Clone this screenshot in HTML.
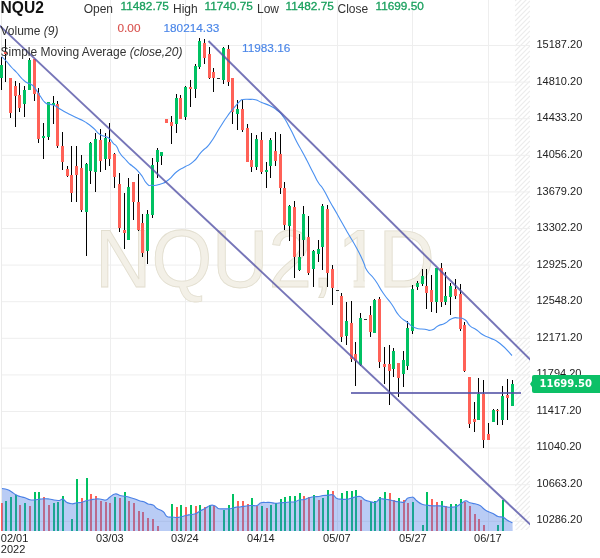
<!DOCTYPE html><html><head><meta charset="utf-8"><title>NQU2 Chart</title>
<style>
html,body{margin:0;padding:0;background:#fff;}
body{width:600px;height:558px;overflow:hidden;position:relative;font-family:"Liberation Sans",Arial,sans-serif;color:#222;}
#chart{position:absolute;left:0;top:0;width:600px;height:558px;}
.t{position:absolute;white-space:nowrap;line-height:1;}
.sym{font-size:15.6px;font-weight:bold;color:#111;}
.lb{font-size:12px;color:#333;}
.val{font-size:11.8px;-webkit-text-stroke:0.3px currentColor;}
.g{color:#1aa05e;}
.r{color:#d9534f;-webkit-text-stroke-width:0.15px;}
.b{color:#4a86e8;-webkit-text-stroke-width:0.15px;}
.ax{font-size:11px;color:#222;}
.price{position:absolute;left:532px;top:375px;width:68px;height:18px;background:#0cc067;border-radius:2px 0 0 2px;}
.price:before{content:"";position:absolute;left:-2px;top:6px;border-top:3px solid transparent;border-bottom:3px solid transparent;border-right:2px solid #0cc067;}
.price span{position:absolute;left:7.5px;top:3.5px;font-family:"DejaVu Sans",Verdana,sans-serif;font-weight:bold;font-size:10px;color:#fff;line-height:1;white-space:nowrap;}
i{font-style:italic;}
</style></head><body>
<svg id="chart" width="600" height="558" viewBox="0 0 600 558">
<defs><pattern id="hatch" width="5" height="5" patternUnits="userSpaceOnUse"><path d="M-1,6 L6,-1 M-1,1 L1,-1 M4,6 L6,4" stroke="#e6e6e6" stroke-width="1" fill="none"/></pattern>
<clipPath id="plot"><rect x="0" y="0" width="530" height="531"/></clipPath></defs>
<rect x="0" y="0" width="600" height="558" fill="#fff"/>
<clipPath id="hb"><rect x="515" y="0" width="15" height="530"/></clipPath>
<path d="M515,1 L530,-14 M515,6 L530,-9 M515,11 L530,-4 M515,16 L530,1 M515,21 L530,6 M515,26 L530,11 M515,31 L530,16 M515,36 L530,21 M515,41 L530,26 M515,46 L530,31 M515,51 L530,36 M515,56 L530,41 M515,61 L530,46 M515,66 L530,51 M515,71 L530,56 M515,76 L530,61 M515,81 L530,66 M515,86 L530,71 M515,91 L530,76 M515,96 L530,81 M515,101 L530,86 M515,106 L530,91 M515,111 L530,96 M515,116 L530,101 M515,121 L530,106 M515,126 L530,111 M515,131 L530,116 M515,136 L530,121 M515,141 L530,126 M515,146 L530,131 M515,151 L530,136 M515,156 L530,141 M515,161 L530,146 M515,166 L530,151 M515,171 L530,156 M515,176 L530,161 M515,181 L530,166 M515,186 L530,171 M515,191 L530,176 M515,196 L530,181 M515,201 L530,186 M515,206 L530,191 M515,211 L530,196 M515,216 L530,201 M515,221 L530,206 M515,226 L530,211 M515,231 L530,216 M515,236 L530,221 M515,241 L530,226 M515,246 L530,231 M515,251 L530,236 M515,256 L530,241 M515,261 L530,246 M515,266 L530,251 M515,271 L530,256 M515,276 L530,261 M515,281 L530,266 M515,286 L530,271 M515,291 L530,276 M515,296 L530,281 M515,301 L530,286 M515,306 L530,291 M515,311 L530,296 M515,316 L530,301 M515,321 L530,306 M515,326 L530,311 M515,331 L530,316 M515,336 L530,321 M515,341 L530,326 M515,346 L530,331 M515,351 L530,336 M515,356 L530,341 M515,361 L530,346 M515,366 L530,351 M515,371 L530,356 M515,376 L530,361 M515,381 L530,366 M515,386 L530,371 M515,391 L530,376 M515,396 L530,381 M515,401 L530,386 M515,406 L530,391 M515,411 L530,396 M515,416 L530,401 M515,421 L530,406 M515,426 L530,411 M515,431 L530,416 M515,436 L530,421 M515,441 L530,426 M515,446 L530,431 M515,451 L530,436 M515,456 L530,441 M515,461 L530,446 M515,466 L530,451 M515,471 L530,456 M515,476 L530,461 M515,481 L530,466 M515,486 L530,471 M515,491 L530,476 M515,496 L530,481 M515,501 L530,486 M515,506 L530,491 M515,511 L530,496 M515,516 L530,501 M515,521 L530,506 M515,526 L530,511 M515,531 L530,516 M515,536 L530,521 M515,541 L530,526 M515,546 L530,531 " stroke="#ececec" stroke-width="1.2" fill="none" clip-path="url(#hb)"/>
<g fill="#eeeeee" shape-rendering="crispEdges"><rect x="2" y="45.0" width="528" height="1" shape-rendering="auto"/><rect x="2" y="81.6" width="528" height="1" shape-rendering="auto"/><rect x="2" y="118.2" width="528" height="1" shape-rendering="auto"/><rect x="2" y="154.8" width="528" height="1" shape-rendering="auto"/><rect x="2" y="191.4" width="528" height="1" shape-rendering="auto"/><rect x="2" y="228.0" width="528" height="1" shape-rendering="auto"/><rect x="2" y="264.6" width="528" height="1" shape-rendering="auto"/><rect x="2" y="301.2" width="528" height="1" shape-rendering="auto"/><rect x="2" y="337.8" width="528" height="1" shape-rendering="auto"/><rect x="2" y="374.4" width="528" height="1" shape-rendering="auto"/><rect x="2" y="411.0" width="528" height="1" shape-rendering="auto"/><rect x="2" y="447.6" width="528" height="1" shape-rendering="auto"/><rect x="2" y="484.2" width="528" height="1" shape-rendering="auto"/><rect x="2" y="520.8" width="528" height="1" shape-rendering="auto"/><rect x="110" y="0" width="1" height="531"/><rect x="185" y="0" width="1" height="531"/><rect x="261" y="0" width="1" height="531"/><rect x="337" y="0" width="1" height="531"/><rect x="412" y="0" width="1" height="531"/><rect x="488" y="0" width="1" height="531"/></g>
<rect x="1" y="0" width="1" height="531" fill="#ebebeb" shape-rendering="crispEdges"/>
<clipPath id="one"><rect x="0" y="200" width="600" height="79.3"/><rect x="0" y="270" width="342" height="40"/><rect x="353.6" y="270" width="11.2" height="40"/><rect x="378" y="270" width="200" height="40"/></clipPath>
<g clip-path="url(#one)"><g transform="translate(0,287) scale(1,1.036) translate(0,-287)" font-family="Liberation Sans, Arial, sans-serif" font-size="78" fill="#f3f0e7" stroke="#e2decf" stroke-width="0.8">
<text x="95.1" y="287">NQU2, <tspan x="337.6">1</tspan><tspan dx="-2.5">D</tspan></text>
</g></g>
<g shape-rendering="crispEdges"><rect x="1" y="503" width="2" height="28" fill="#ff6157"/><rect x="5" y="501" width="2" height="30" fill="#00c162"/><rect x="10" y="497" width="2" height="34" fill="#00c162"/><rect x="15" y="495" width="2" height="36" fill="#00c162"/><rect x="19" y="505" width="2" height="26" fill="#ff6157"/><rect x="24" y="503" width="2" height="28" fill="#00c162"/><rect x="29" y="506" width="2" height="25" fill="#ff6157"/><rect x="34" y="492" width="2" height="39" fill="#00c162"/><rect x="38" y="492" width="2" height="39" fill="#00c162"/><rect x="43" y="497" width="2" height="34" fill="#ff6157"/><rect x="48" y="505" width="2" height="26" fill="#ff6157"/><rect x="53" y="503" width="2" height="28" fill="#00c162"/><rect x="57" y="502" width="2" height="29" fill="#00c162"/><rect x="62" y="496" width="2" height="35" fill="#00c162"/><rect x="71" y="519" width="2" height="12" fill="#00c162"/><rect x="76" y="479" width="2" height="52" fill="#00c162"/><rect x="81" y="498" width="2" height="33" fill="#ff6157"/><rect x="86" y="478" width="2" height="53" fill="#00c162"/><rect x="90" y="494" width="2" height="37" fill="#ff6157"/><rect x="95" y="496" width="2" height="35" fill="#ff6157"/><rect x="100" y="501" width="2" height="30" fill="#ff6157"/><rect x="105" y="502" width="2" height="29" fill="#ff6157"/><rect x="109" y="503" width="2" height="28" fill="#ff6157"/><rect x="114" y="497" width="2" height="34" fill="#00c162"/><rect x="119" y="498" width="2" height="33" fill="#ff6157"/><rect x="124" y="492" width="2" height="39" fill="#00c162"/><rect x="128" y="501" width="2" height="30" fill="#ff6157"/><rect x="133" y="503" width="2" height="28" fill="#ff6157"/><rect x="138" y="511" width="2" height="20" fill="#ff6157"/><rect x="142" y="512" width="2" height="19" fill="#ff6157"/><rect x="147" y="518" width="2" height="13" fill="#ff6157"/><rect x="152" y="519" width="2" height="12" fill="#ff6157"/><rect x="157" y="526" width="2" height="5" fill="#ff6157"/><rect x="171" y="504" width="2" height="27" fill="#00c162"/><rect x="176" y="507" width="2" height="24" fill="#ff6157"/><rect x="180" y="505" width="2" height="26" fill="#00c162"/><rect x="185" y="507" width="2" height="24" fill="#ff6157"/><rect x="190" y="505" width="2" height="26" fill="#00c162"/><rect x="195" y="506" width="2" height="25" fill="#ff6157"/><rect x="199" y="505" width="2" height="26" fill="#00c162"/><rect x="204" y="507" width="2" height="24" fill="#ff6157"/><rect x="209" y="505" width="2" height="26" fill="#00c162"/><rect x="213" y="506" width="2" height="25" fill="#ff6157"/><rect x="223" y="510" width="2" height="21" fill="#00c162"/><rect x="228" y="505" width="2" height="26" fill="#00c162"/><rect x="232" y="494" width="2" height="37" fill="#00c162"/><rect x="237" y="501" width="2" height="30" fill="#ff6157"/><rect x="242" y="501" width="2" height="30" fill="#ff6157"/><rect x="247" y="504" width="2" height="27" fill="#ff6157"/><rect x="251" y="498" width="2" height="33" fill="#00c162"/><rect x="256" y="506" width="2" height="25" fill="#ff6157"/><rect x="261" y="506" width="2" height="25" fill="#00c162"/><rect x="266" y="508" width="2" height="23" fill="#ff6157"/><rect x="270" y="505" width="2" height="26" fill="#00c162"/><rect x="275" y="503" width="2" height="28" fill="#00c162"/><rect x="280" y="499" width="2" height="32" fill="#00c162"/><rect x="284" y="497" width="2" height="34" fill="#00c162"/><rect x="289" y="496" width="2" height="35" fill="#00c162"/><rect x="294" y="496" width="2" height="35" fill="#00c162"/><rect x="299" y="493" width="2" height="38" fill="#00c162"/><rect x="303" y="496" width="2" height="35" fill="#ff6157"/><rect x="308" y="497" width="2" height="34" fill="#ff6157"/><rect x="313" y="495" width="2" height="36" fill="#00c162"/><rect x="318" y="500" width="2" height="31" fill="#ff6157"/><rect x="322" y="498" width="2" height="33" fill="#00c162"/><rect x="327" y="490" width="2" height="41" fill="#00c162"/><rect x="332" y="491" width="2" height="40" fill="#ff6157"/><rect x="341" y="493" width="2" height="38" fill="#00c162"/><rect x="346" y="491" width="2" height="40" fill="#00c162"/><rect x="351" y="491" width="2" height="40" fill="#00c162"/><rect x="355" y="490" width="2" height="41" fill="#00c162"/><rect x="360" y="500" width="2" height="31" fill="#ff6157"/><rect x="370" y="502" width="2" height="29" fill="#00c162"/><rect x="374" y="501" width="2" height="30" fill="#00c162"/><rect x="379" y="497" width="2" height="34" fill="#00c162"/><rect x="384" y="492" width="2" height="39" fill="#00c162"/><rect x="389" y="493" width="2" height="38" fill="#ff6157"/><rect x="393" y="500" width="2" height="31" fill="#ff6157"/><rect x="398" y="498" width="2" height="33" fill="#00c162"/><rect x="403" y="500" width="2" height="31" fill="#ff6157"/><rect x="407" y="503" width="2" height="28" fill="#ff6157"/><rect x="412" y="502" width="2" height="29" fill="#00c162"/><rect x="422" y="525" width="2" height="6" fill="#00c162"/><rect x="426" y="492" width="2" height="39" fill="#00c162"/><rect x="431" y="499" width="2" height="32" fill="#ff6157"/><rect x="436" y="502" width="2" height="29" fill="#ff6157"/><rect x="441" y="501" width="2" height="30" fill="#00c162"/><rect x="445" y="506" width="2" height="25" fill="#ff6157"/><rect x="450" y="504" width="2" height="27" fill="#00c162"/><rect x="455" y="504" width="2" height="27" fill="#00c162"/><rect x="460" y="499" width="2" height="32" fill="#00c162"/><rect x="464" y="502" width="2" height="29" fill="#ff6157"/><rect x="469" y="506" width="2" height="25" fill="#ff6157"/><rect x="474" y="514" width="2" height="17" fill="#ff6157"/><rect x="478" y="519" width="2" height="12" fill="#ff6157"/><rect x="483" y="525" width="2" height="6" fill="#ff6157"/><rect x="497" y="525" width="2" height="6" fill="#00c162"/><rect x="502" y="500" width="2" height="31" fill="#00c162"/></g>
<path d="M2.0,488.5 C3.3,488.8 4.6,488.7 7.0,489.5 C9.4,490.3 8.6,490.1 11.0,491.5 C13.4,492.9 13.6,493.5 16.0,494.8 C18.4,496.1 17.6,495.7 20.0,496.5 C22.4,497.3 22.3,496.9 25.0,497.8 C27.7,498.7 27.3,499.3 30.0,499.8 C32.7,500.3 32.6,500.0 35.0,499.8 C37.4,499.6 36.6,499.5 39.0,499.2 C41.4,498.9 41.3,498.9 44.0,498.8 C46.7,498.7 46.3,498.7 49.0,499.0 C51.7,499.3 51.6,499.6 54.0,500.0 C56.4,500.4 56.4,500.4 58.0,500.5 C59.6,500.6 58.7,500.5 60.0,500.2 C61.3,499.9 61.1,498.6 63.0,499.2 C64.9,499.8 64.6,501.3 67.0,502.5 C69.4,503.7 69.3,503.7 72.0,503.8 C74.7,503.9 74.3,503.2 77.0,502.8 C79.7,502.4 79.3,502.8 82.0,502.2 C84.7,501.6 84.6,501.1 87.0,500.5 C89.4,499.9 88.6,500.2 91.0,499.8 C93.4,499.4 93.3,499.2 96.0,499.0 C98.7,498.8 98.3,498.9 101.0,499.2 C103.7,499.5 103.6,500.6 106.0,500.0 C108.4,499.4 107.6,498.6 110.0,497.0 C112.4,495.4 112.6,494.5 115.0,494.0 C117.4,493.5 117.7,494.6 119.0,495.0 C120.3,495.4 118.1,495.1 120.0,495.5 C121.9,495.9 123.3,496.0 126.0,496.5 C128.7,497.0 127.6,496.8 130.0,497.5 C132.4,498.2 132.3,498.1 135.0,499.0 C137.7,499.9 137.6,500.3 140.0,501.0 C142.4,501.7 141.9,501.0 144.0,501.8 C146.1,502.6 145.6,503.1 148.0,504.0 C150.4,504.9 150.6,503.8 153.0,505.0 C155.4,506.2 154.3,506.8 157.0,508.5 C159.7,510.2 160.3,509.4 163.0,511.5 C165.7,513.6 164.6,515.0 167.0,516.5 C169.4,518.0 169.3,516.7 172.0,517.0 C174.7,517.3 174.9,517.5 177.0,517.5 C179.1,517.5 177.6,517.5 180.0,517.0 C182.4,516.5 183.1,516.2 186.0,515.5 C188.9,514.8 188.3,515.0 191.0,514.5 C193.7,514.0 193.6,514.4 196.0,513.5 C198.4,512.6 197.6,512.3 200.0,511.0 C202.4,509.7 202.3,510.0 205.0,508.5 C207.7,507.0 207.6,506.3 210.0,505.5 C212.4,504.7 212.1,505.0 214.0,505.5 C215.9,506.0 215.7,506.6 217.0,507.5 C218.3,508.4 217.1,508.5 219.0,508.8 C220.9,509.1 221.3,508.8 224.0,508.8 C226.7,508.8 226.6,509.0 229.0,508.8 C231.4,508.6 230.6,508.5 233.0,508.0 C235.4,507.5 236.1,507.1 238.0,506.8 C239.9,506.5 237.3,507.3 240.0,507.0 C242.7,506.7 244.8,506.2 248.0,505.8 C251.2,505.4 249.6,505.6 252.0,505.5 C254.4,505.4 254.6,506.2 257.0,505.5 C259.4,504.8 258.6,503.6 261.0,502.8 C263.4,502.0 263.3,502.6 266.0,502.5 C268.7,502.4 268.6,502.3 271.0,502.5 C273.4,502.7 272.3,503.1 275.0,503.2 C277.7,503.3 278.3,503.0 281.0,502.8 C283.7,502.6 282.6,502.7 285.0,502.5 C287.4,502.3 287.3,502.2 290.0,502.0 C292.7,501.8 292.6,502.3 295.0,501.8 C297.4,501.3 296.6,500.6 299.0,500.0 C301.4,499.4 301.3,500.1 304.0,499.5 C306.7,498.9 306.3,498.5 309.0,497.8 C311.7,497.1 311.3,497.1 314.0,496.8 C316.7,496.5 316.6,496.8 319.0,496.5 C321.4,496.2 320.6,495.8 323.0,495.5 C325.4,495.2 325.3,495.4 328.0,495.3 C330.7,495.2 330.6,494.1 333.0,495.0 C335.4,495.9 334.6,497.4 337.0,498.5 C339.4,499.6 339.3,499.0 342.0,499.2 C344.7,499.4 344.3,499.5 347.0,499.2 C349.7,498.9 349.6,498.6 352.0,498.0 C354.4,497.4 353.9,497.2 356.0,496.8 C358.1,496.4 358.4,496.3 360.0,496.5 C361.6,496.7 360.7,496.6 362.0,497.5 C363.3,498.4 362.9,498.9 365.0,500.0 C367.1,501.1 367.3,500.8 370.0,501.5 C372.7,502.2 372.9,502.8 375.0,502.5 C377.1,502.2 376.7,501.5 378.0,500.5 C379.3,499.5 378.1,499.1 380.0,498.8 C381.9,498.5 382.3,498.9 385.0,499.2 C387.7,499.5 387.6,499.5 390.0,500.0 C392.4,500.5 391.6,500.5 394.0,501.0 C396.4,501.5 396.3,501.5 399.0,501.8 C401.7,502.1 402.1,502.7 404.0,502.2 C405.9,501.7 404.9,501.1 406.0,500.0 C407.1,498.9 406.4,498.7 408.0,498.0 C409.6,497.3 410.4,497.2 412.0,497.2 C413.6,497.2 412.7,497.0 414.0,498.0 C415.3,499.0 414.9,499.3 417.0,501.0 C419.1,502.7 419.3,503.1 422.0,504.2 C424.7,505.3 424.3,504.8 427.0,505.2 C429.7,505.6 429.3,505.6 432.0,505.8 C434.7,506.0 434.3,505.7 437.0,505.8 C439.7,505.9 439.6,505.7 442.0,506.0 C444.4,506.3 443.6,506.5 446.0,506.8 C448.4,507.1 448.3,507.3 451.0,507.2 C453.7,507.1 453.6,507.3 456.0,506.5 C458.4,505.7 458.1,505.4 460.0,504.3 C461.9,503.2 461.4,503.2 463.0,502.3 C464.6,501.4 464.1,500.7 466.0,500.8 C467.9,500.9 467.6,502.0 470.0,502.8 C472.4,503.6 472.3,503.1 475.0,503.8 C477.7,504.5 477.6,504.1 480.0,505.5 C482.4,506.9 481.9,507.4 484.0,509.0 C486.1,510.6 485.6,510.3 488.0,511.5 C490.4,512.7 490.3,512.2 493.0,513.5 C495.7,514.8 495.3,515.5 498.0,516.5 C500.7,517.5 500.6,516.3 503.0,517.2 C505.4,518.1 504.5,518.5 507.0,520.0 C509.5,521.5 511.0,522.1 512.5,522.8 L512.7,531 L2,531 Z" fill="rgba(70,120,230,0.38)"/>
<path d="M2.0,488.5 C3.3,488.8 4.6,488.7 7.0,489.5 C9.4,490.3 8.6,490.1 11.0,491.5 C13.4,492.9 13.6,493.5 16.0,494.8 C18.4,496.1 17.6,495.7 20.0,496.5 C22.4,497.3 22.3,496.9 25.0,497.8 C27.7,498.7 27.3,499.3 30.0,499.8 C32.7,500.3 32.6,500.0 35.0,499.8 C37.4,499.6 36.6,499.5 39.0,499.2 C41.4,498.9 41.3,498.9 44.0,498.8 C46.7,498.7 46.3,498.7 49.0,499.0 C51.7,499.3 51.6,499.6 54.0,500.0 C56.4,500.4 56.4,500.4 58.0,500.5 C59.6,500.6 58.7,500.5 60.0,500.2 C61.3,499.9 61.1,498.6 63.0,499.2 C64.9,499.8 64.6,501.3 67.0,502.5 C69.4,503.7 69.3,503.7 72.0,503.8 C74.7,503.9 74.3,503.2 77.0,502.8 C79.7,502.4 79.3,502.8 82.0,502.2 C84.7,501.6 84.6,501.1 87.0,500.5 C89.4,499.9 88.6,500.2 91.0,499.8 C93.4,499.4 93.3,499.2 96.0,499.0 C98.7,498.8 98.3,498.9 101.0,499.2 C103.7,499.5 103.6,500.6 106.0,500.0 C108.4,499.4 107.6,498.6 110.0,497.0 C112.4,495.4 112.6,494.5 115.0,494.0 C117.4,493.5 117.7,494.6 119.0,495.0 C120.3,495.4 118.1,495.1 120.0,495.5 C121.9,495.9 123.3,496.0 126.0,496.5 C128.7,497.0 127.6,496.8 130.0,497.5 C132.4,498.2 132.3,498.1 135.0,499.0 C137.7,499.9 137.6,500.3 140.0,501.0 C142.4,501.7 141.9,501.0 144.0,501.8 C146.1,502.6 145.6,503.1 148.0,504.0 C150.4,504.9 150.6,503.8 153.0,505.0 C155.4,506.2 154.3,506.8 157.0,508.5 C159.7,510.2 160.3,509.4 163.0,511.5 C165.7,513.6 164.6,515.0 167.0,516.5 C169.4,518.0 169.3,516.7 172.0,517.0 C174.7,517.3 174.9,517.5 177.0,517.5 C179.1,517.5 177.6,517.5 180.0,517.0 C182.4,516.5 183.1,516.2 186.0,515.5 C188.9,514.8 188.3,515.0 191.0,514.5 C193.7,514.0 193.6,514.4 196.0,513.5 C198.4,512.6 197.6,512.3 200.0,511.0 C202.4,509.7 202.3,510.0 205.0,508.5 C207.7,507.0 207.6,506.3 210.0,505.5 C212.4,504.7 212.1,505.0 214.0,505.5 C215.9,506.0 215.7,506.6 217.0,507.5 C218.3,508.4 217.1,508.5 219.0,508.8 C220.9,509.1 221.3,508.8 224.0,508.8 C226.7,508.8 226.6,509.0 229.0,508.8 C231.4,508.6 230.6,508.5 233.0,508.0 C235.4,507.5 236.1,507.1 238.0,506.8 C239.9,506.5 237.3,507.3 240.0,507.0 C242.7,506.7 244.8,506.2 248.0,505.8 C251.2,505.4 249.6,505.6 252.0,505.5 C254.4,505.4 254.6,506.2 257.0,505.5 C259.4,504.8 258.6,503.6 261.0,502.8 C263.4,502.0 263.3,502.6 266.0,502.5 C268.7,502.4 268.6,502.3 271.0,502.5 C273.4,502.7 272.3,503.1 275.0,503.2 C277.7,503.3 278.3,503.0 281.0,502.8 C283.7,502.6 282.6,502.7 285.0,502.5 C287.4,502.3 287.3,502.2 290.0,502.0 C292.7,501.8 292.6,502.3 295.0,501.8 C297.4,501.3 296.6,500.6 299.0,500.0 C301.4,499.4 301.3,500.1 304.0,499.5 C306.7,498.9 306.3,498.5 309.0,497.8 C311.7,497.1 311.3,497.1 314.0,496.8 C316.7,496.5 316.6,496.8 319.0,496.5 C321.4,496.2 320.6,495.8 323.0,495.5 C325.4,495.2 325.3,495.4 328.0,495.3 C330.7,495.2 330.6,494.1 333.0,495.0 C335.4,495.9 334.6,497.4 337.0,498.5 C339.4,499.6 339.3,499.0 342.0,499.2 C344.7,499.4 344.3,499.5 347.0,499.2 C349.7,498.9 349.6,498.6 352.0,498.0 C354.4,497.4 353.9,497.2 356.0,496.8 C358.1,496.4 358.4,496.3 360.0,496.5 C361.6,496.7 360.7,496.6 362.0,497.5 C363.3,498.4 362.9,498.9 365.0,500.0 C367.1,501.1 367.3,500.8 370.0,501.5 C372.7,502.2 372.9,502.8 375.0,502.5 C377.1,502.2 376.7,501.5 378.0,500.5 C379.3,499.5 378.1,499.1 380.0,498.8 C381.9,498.5 382.3,498.9 385.0,499.2 C387.7,499.5 387.6,499.5 390.0,500.0 C392.4,500.5 391.6,500.5 394.0,501.0 C396.4,501.5 396.3,501.5 399.0,501.8 C401.7,502.1 402.1,502.7 404.0,502.2 C405.9,501.7 404.9,501.1 406.0,500.0 C407.1,498.9 406.4,498.7 408.0,498.0 C409.6,497.3 410.4,497.2 412.0,497.2 C413.6,497.2 412.7,497.0 414.0,498.0 C415.3,499.0 414.9,499.3 417.0,501.0 C419.1,502.7 419.3,503.1 422.0,504.2 C424.7,505.3 424.3,504.8 427.0,505.2 C429.7,505.6 429.3,505.6 432.0,505.8 C434.7,506.0 434.3,505.7 437.0,505.8 C439.7,505.9 439.6,505.7 442.0,506.0 C444.4,506.3 443.6,506.5 446.0,506.8 C448.4,507.1 448.3,507.3 451.0,507.2 C453.7,507.1 453.6,507.3 456.0,506.5 C458.4,505.7 458.1,505.4 460.0,504.3 C461.9,503.2 461.4,503.2 463.0,502.3 C464.6,501.4 464.1,500.7 466.0,500.8 C467.9,500.9 467.6,502.0 470.0,502.8 C472.4,503.6 472.3,503.1 475.0,503.8 C477.7,504.5 477.6,504.1 480.0,505.5 C482.4,506.9 481.9,507.4 484.0,509.0 C486.1,510.6 485.6,510.3 488.0,511.5 C490.4,512.7 490.3,512.2 493.0,513.5 C495.7,514.8 495.3,515.5 498.0,516.5 C500.7,517.5 500.6,516.3 503.0,517.2 C505.4,518.1 504.5,518.5 507.0,520.0 C509.5,521.5 511.0,522.1 512.5,522.8" fill="none" stroke="#4a80e6" stroke-width="1.15" stroke-linejoin="round"/>
<g clip-path="url(#plot)" shape-rendering="crispEdges"><g fill="#000"><rect x="1" y="57" width="1" height="33"/><rect x="5" y="39" width="1" height="43"/><rect x="10" y="78" width="1" height="40"/><rect x="15" y="81" width="1" height="46"/><rect x="19" y="83" width="1" height="29"/><rect x="24" y="86" width="1" height="31"/><rect x="29" y="58" width="1" height="32"/><rect x="34" y="59" width="1" height="42"/><rect x="38" y="88" width="1" height="55"/><rect x="43" y="123" width="1" height="36"/><rect x="48" y="102" width="1" height="38"/><rect x="53" y="96" width="1" height="28"/><rect x="57" y="101" width="1" height="47"/><rect x="62" y="132" width="1" height="38"/><rect x="67" y="166" width="1" height="11"/><rect x="71" y="146" width="1" height="56"/><rect x="76" y="146" width="1" height="56"/><rect x="81" y="155" width="1" height="57"/><rect x="86" y="163" width="1" height="93"/><rect x="90" y="142" width="1" height="42"/><rect x="95" y="133" width="1" height="59"/><rect x="100" y="129" width="1" height="43"/><rect x="105" y="133" width="1" height="37"/><rect x="109" y="123" width="1" height="43"/><rect x="114" y="153" width="1" height="35"/><rect x="119" y="173" width="1" height="59"/><rect x="124" y="193" width="1" height="56"/><rect x="128" y="178" width="1" height="62"/><rect x="133" y="182" width="1" height="38"/><rect x="138" y="174" width="1" height="57"/><rect x="142" y="214" width="1" height="43"/><rect x="147" y="210" width="1" height="54"/><rect x="152" y="158" width="1" height="60"/><rect x="157" y="148" width="1" height="30"/><rect x="161" y="152" width="1" height="13"/><rect x="166" y="119" width="1" height="4"/><rect x="171" y="116" width="1" height="28"/><rect x="176" y="94" width="1" height="39"/><rect x="180" y="95" width="1" height="24"/><rect x="185" y="86" width="1" height="34"/><rect x="190" y="80" width="1" height="27"/><rect x="195" y="64" width="1" height="34"/><rect x="199" y="38" width="1" height="31"/><rect x="204" y="39" width="1" height="25"/><rect x="209" y="47" width="1" height="32"/><rect x="213" y="68" width="1" height="24"/><rect x="223" y="47" width="1" height="37"/><rect x="228" y="45" width="1" height="41"/><rect x="232" y="78" width="1" height="46"/><rect x="237" y="100" width="1" height="30"/><rect x="242" y="100" width="1" height="32"/><rect x="247" y="124" width="1" height="38"/><rect x="251" y="133" width="1" height="39"/><rect x="256" y="135" width="1" height="35"/><rect x="261" y="132" width="1" height="42"/><rect x="266" y="162" width="1" height="26"/><rect x="270" y="138" width="1" height="40"/><rect x="275" y="132" width="1" height="34"/><rect x="280" y="134" width="1" height="60"/><rect x="284" y="182" width="1" height="48"/><rect x="289" y="205" width="1" height="36"/><rect x="294" y="201" width="1" height="77"/><rect x="299" y="234" width="1" height="37"/><rect x="303" y="206" width="1" height="50"/><rect x="308" y="216" width="1" height="59"/><rect x="313" y="250" width="1" height="37"/><rect x="318" y="240" width="1" height="22"/><rect x="322" y="204" width="1" height="66"/><rect x="327" y="205" width="1" height="82"/><rect x="332" y="265" width="1" height="40"/><rect x="341" y="293" width="1" height="49"/><rect x="346" y="302" width="1" height="43"/><rect x="351" y="301" width="1" height="61"/><rect x="355" y="342" width="1" height="44"/><rect x="360" y="313" width="1" height="53"/><rect x="370" y="306" width="1" height="31"/><rect x="374" y="299" width="1" height="34"/><rect x="379" y="297" width="1" height="71"/><rect x="384" y="347" width="1" height="37"/><rect x="389" y="345" width="1" height="60"/><rect x="393" y="348" width="1" height="29"/><rect x="398" y="363" width="1" height="34"/><rect x="403" y="351" width="1" height="36"/><rect x="407" y="321" width="1" height="49"/><rect x="412" y="285" width="1" height="49"/><rect x="417" y="281" width="1" height="9"/><rect x="422" y="269" width="1" height="17"/><rect x="426" y="269" width="1" height="40"/><rect x="431" y="275" width="1" height="37"/><rect x="436" y="268" width="1" height="45"/><rect x="441" y="263" width="1" height="44"/><rect x="445" y="272" width="1" height="33"/><rect x="450" y="283" width="1" height="32"/><rect x="455" y="279" width="1" height="20"/><rect x="460" y="284" width="1" height="47"/><rect x="464" y="322" width="1" height="50"/><rect x="469" y="377" width="1" height="51"/><rect x="474" y="402" width="1" height="30"/><rect x="478" y="378" width="1" height="42"/><rect x="483" y="380" width="1" height="68"/><rect x="488" y="423" width="1" height="17"/><rect x="493" y="409" width="1" height="13"/><rect x="497" y="409" width="1" height="16"/><rect x="502" y="386" width="1" height="39"/><rect x="507" y="379" width="1" height="41"/><rect x="512" y="380" width="1" height="26"/></g><rect x="0" y="65" width="3" height="13" fill="#00c162"/><rect x="4" y="52" width="3" height="2" fill="#ff6157"/><rect x="9" y="78" width="3" height="35" fill="#ff6157"/><rect x="14" y="86" width="3" height="10" fill="#ff6157"/><rect x="18" y="95" width="3" height="13" fill="#ff6157"/><rect x="23" y="90" width="3" height="14" fill="#00c162"/><rect x="28" y="60" width="3" height="30" fill="#00c162"/><rect x="33" y="59" width="3" height="35" fill="#ff6157"/><rect x="37" y="93" width="3" height="46" fill="#ff6157"/><rect x="42" y="136" width="3" height="2" fill="#00c162"/><rect x="47" y="102" width="3" height="35" fill="#00c162"/><rect x="52" y="103" width="3" height="2" fill="#00c162"/><rect x="56" y="104" width="3" height="42" fill="#ff6157"/><rect x="61" y="146" width="3" height="16" fill="#ff6157"/><rect x="66" y="169" width="3" height="7" fill="#ff6157"/><rect x="70" y="175" width="3" height="18" fill="#ff6157"/><rect x="75" y="166" width="3" height="9" fill="#ff6157"/><rect x="80" y="168" width="3" height="42" fill="#ff6157"/><rect x="85" y="164" width="3" height="48" fill="#00c162"/><rect x="89" y="143" width="3" height="28" fill="#00c162"/><rect x="94" y="139" width="3" height="33" fill="#00c162"/><rect x="99" y="140" width="3" height="21" fill="#ff6157"/><rect x="104" y="138" width="3" height="21" fill="#00c162"/><rect x="108" y="142" width="3" height="17" fill="#ff6157"/><rect x="113" y="154" width="3" height="23" fill="#ff6157"/><rect x="118" y="184" width="3" height="44" fill="#ff6157"/><rect x="123" y="230" width="3" height="3" fill="#ff6157"/><rect x="127" y="187" width="3" height="53" fill="#00c162"/><rect x="132" y="182" width="3" height="20" fill="#ff6157"/><rect x="137" y="202" width="3" height="28" fill="#ff6157"/><rect x="141" y="223" width="3" height="30" fill="#ff6157"/><rect x="146" y="214" width="3" height="37" fill="#00c162"/><rect x="151" y="165" width="3" height="50" fill="#00c162"/><rect x="156" y="150" width="3" height="12" fill="#00c162"/><rect x="160" y="152" width="3" height="4" fill="#00c162"/><rect x="165" y="119" width="3" height="4" fill="#ff6157"/><rect x="170" y="122" width="3" height="4" fill="#ff6157"/><rect x="175" y="98" width="3" height="26" fill="#00c162"/><rect x="179" y="98" width="3" height="21" fill="#ff6157"/><rect x="184" y="87" width="3" height="30" fill="#00c162"/><rect x="189" y="87" width="3" height="2" fill="#ff6157"/><rect x="194" y="66" width="3" height="23" fill="#00c162"/><rect x="198" y="41" width="3" height="26" fill="#00c162"/><rect x="203" y="43" width="3" height="15" fill="#ff6157"/><rect x="208" y="54" width="3" height="24" fill="#ff6157"/><rect x="212" y="72" width="3" height="6" fill="#ff6157"/><rect x="217" y="78" width="3" height="1" fill="#333"/><rect x="222" y="48" width="3" height="32" fill="#00c162"/><rect x="227" y="49" width="3" height="33" fill="#ff6157"/><rect x="231" y="78" width="3" height="34" fill="#ff6157"/><rect x="236" y="109" width="3" height="5" fill="#00c162"/><rect x="241" y="109" width="3" height="21" fill="#ff6157"/><rect x="246" y="128" width="3" height="34" fill="#ff6157"/><rect x="250" y="160" width="3" height="7" fill="#ff6157"/><rect x="255" y="139" width="3" height="28" fill="#00c162"/><rect x="260" y="140" width="3" height="32" fill="#ff6157"/><rect x="265" y="170" width="3" height="2" fill="#00c162"/><rect x="269" y="140" width="3" height="26" fill="#00c162"/><rect x="274" y="151" width="3" height="10" fill="#ff6157"/><rect x="279" y="154" width="3" height="34" fill="#ff6157"/><rect x="283" y="188" width="3" height="37" fill="#ff6157"/><rect x="288" y="206" width="3" height="20" fill="#00c162"/><rect x="293" y="207" width="3" height="50" fill="#ff6157"/><rect x="298" y="257" width="3" height="13" fill="#00c162"/><rect x="302" y="214" width="3" height="26" fill="#00c162"/><rect x="307" y="237" width="3" height="36" fill="#ff6157"/><rect x="312" y="251" width="3" height="18" fill="#00c162"/><rect x="317" y="249" width="3" height="5" fill="#00c162"/><rect x="321" y="206" width="3" height="41" fill="#00c162"/><rect x="326" y="209" width="3" height="64" fill="#ff6157"/><rect x="331" y="269" width="3" height="19" fill="#ff6157"/><rect x="336" y="290" width="3" height="1" fill="#333"/><rect x="340" y="296" width="3" height="41" fill="#ff6157"/><rect x="345" y="321" width="3" height="15" fill="#00c162"/><rect x="350" y="323" width="3" height="36" fill="#ff6157"/><rect x="354" y="354" width="3" height="7" fill="#ff6157"/><rect x="359" y="318" width="3" height="47" fill="#00c162"/><rect x="364" y="319" width="3" height="1" fill="#333"/><rect x="369" y="315" width="3" height="17" fill="#ff6157"/><rect x="373" y="300" width="3" height="33" fill="#00c162"/><rect x="378" y="299" width="3" height="63" fill="#ff6157"/><rect x="383" y="364" width="3" height="3" fill="#ff6157"/><rect x="388" y="364" width="3" height="7" fill="#ff6157"/><rect x="392" y="351" width="3" height="18" fill="#00c162"/><rect x="397" y="363" width="3" height="15" fill="#ff6157"/><rect x="402" y="360" width="3" height="14" fill="#00c162"/><rect x="406" y="328" width="3" height="38" fill="#00c162"/><rect x="411" y="289" width="3" height="42" fill="#00c162"/><rect x="416" y="283" width="3" height="4" fill="#00c162"/><rect x="421" y="276" width="3" height="8" fill="#00c162"/><rect x="425" y="286" width="3" height="7" fill="#ff6157"/><rect x="430" y="290" width="3" height="12" fill="#ff6157"/><rect x="435" y="268" width="3" height="34" fill="#00c162"/><rect x="440" y="268" width="3" height="34" fill="#ff6157"/><rect x="444" y="296" width="3" height="6" fill="#00c162"/><rect x="449" y="286" width="3" height="11" fill="#00c162"/><rect x="454" y="289" width="3" height="7" fill="#ff6157"/><rect x="459" y="294" width="3" height="35" fill="#ff6157"/><rect x="463" y="325" width="3" height="46" fill="#ff6157"/><rect x="468" y="377" width="3" height="47" fill="#ff6157"/><rect x="473" y="419" width="3" height="3" fill="#ff6157"/><rect x="477" y="394" width="3" height="26" fill="#00c162"/><rect x="482" y="394" width="3" height="46" fill="#ff6157"/><rect x="487" y="434" width="3" height="6" fill="#ff6157"/><rect x="492" y="410" width="3" height="12" fill="#00c162"/><rect x="496" y="410" width="3" height="1" fill="#ff6157"/><rect x="501" y="396" width="3" height="24" fill="#00c162"/><rect x="506" y="395" width="3" height="3" fill="#ff6157"/><rect x="511" y="384" width="3" height="22" fill="#00c162"/></g>
<path d="M1.7,56.7 C3.4,58.4 3.4,58.1 6.7,61.7 C10.0,65.3 8.4,63.9 11.7,67.5 C15.0,71.1 13.4,68.9 16.7,72.5 C20.0,76.1 18.4,75.0 21.7,78.3 C25.0,81.6 23.7,80.5 26.7,82.5 C29.7,84.5 28.0,82.3 30.8,84.2 C33.6,86.1 31.9,84.4 35.0,88.3 C38.1,92.2 36.7,91.1 40.0,95.8 C43.3,100.5 41.7,99.7 45.0,102.5 C48.3,105.3 46.7,103.1 50.0,104.2 C53.3,105.3 51.1,103.9 55.0,105.8 C58.9,107.7 56.7,107.1 61.7,110.0 C66.7,112.9 64.5,111.7 70.0,114.5 C75.5,117.3 73.3,116.0 78.3,118.5 C83.3,121.0 80.0,118.7 85.0,121.9 C90.0,125.1 88.3,123.8 93.3,128.0 C98.3,132.2 95.0,131.2 100.0,134.5 C105.0,137.8 103.9,134.9 108.3,137.8 C112.7,140.7 110.5,140.4 113.3,143.3 C116.1,146.2 114.5,143.2 116.7,146.5 C118.9,149.8 117.2,149.1 120.0,153.3 C122.8,157.5 121.7,155.3 125.0,159.0 C128.3,162.7 127.8,162.2 130.0,164.4 C132.2,166.6 128.4,162.5 131.7,165.5 C135.0,168.5 135.0,167.4 140.0,173.3 C145.0,179.2 142.8,179.3 146.7,183.3 C150.6,187.3 147.3,185.0 151.7,185.3 C156.1,185.6 154.5,186.0 160.0,184.2 C165.5,182.4 162.7,184.2 168.3,180.0 C173.9,175.8 171.1,176.1 176.7,171.7 C182.3,167.3 179.5,170.0 185.0,166.7 C190.5,163.4 187.7,166.7 193.3,161.7 C198.9,156.7 196.1,157.8 201.7,151.7 C207.3,145.6 204.0,151.2 210.0,143.3 C216.0,135.4 213.8,137.1 219.6,128.0 C225.4,118.9 222.4,123.1 227.5,116.0 C232.6,108.9 230.8,111.5 235.0,106.6 C239.2,101.7 237.3,103.6 240.0,101.2 C242.7,98.8 239.7,100.1 243.0,99.5 C246.3,98.9 245.8,99.3 250.0,99.4 C254.2,99.5 251.6,98.8 255.5,99.8 C259.4,100.8 256.9,100.5 261.7,102.5 C266.5,104.5 265.0,103.3 270.0,105.8 C275.0,108.3 272.3,106.4 276.7,110.0 C281.1,113.6 278.9,110.6 283.3,116.7 C287.7,122.8 285.5,120.0 290.0,128.3 C294.5,136.6 292.7,134.1 296.7,141.7 C300.7,149.3 298.7,145.1 302.0,151.2 C305.3,157.3 302.9,152.7 306.7,160.0 C310.5,167.3 309.4,165.5 313.3,173.0 C317.2,180.5 315.0,177.1 318.3,182.5 C321.6,187.9 319.4,182.8 323.3,189.2 C327.2,195.6 325.5,193.7 330.0,201.7 C334.5,209.7 332.3,205.5 336.7,213.3 C341.1,221.1 339.2,217.8 343.3,225.0 C347.4,232.2 344.5,227.2 349.0,235.0 C353.5,242.8 351.9,239.4 356.7,248.3 C361.5,257.2 359.9,254.3 363.3,261.7 C366.7,269.1 363.1,264.4 367.0,270.5 C370.9,276.6 369.6,272.4 375.0,280.0 C380.4,287.6 377.7,285.2 383.3,293.3 C388.9,301.4 386.5,296.8 391.7,304.2 C396.9,311.6 393.7,309.4 399.0,315.5 C404.3,321.6 402.2,318.4 407.5,322.5 C412.8,326.6 409.2,325.5 415.0,327.7 C420.8,329.9 419.4,328.4 425.0,329.2 C430.6,330.0 427.3,331.1 431.7,330.0 C436.1,328.9 433.9,328.0 438.3,325.8 C442.7,323.6 440.5,325.7 445.0,323.3 C449.5,320.9 447.3,320.5 451.7,318.7 C456.1,316.9 453.9,317.7 458.3,318.0 C462.7,318.3 461.1,317.1 465.0,319.7 C468.9,322.3 466.1,322.4 470.0,325.8 C473.9,329.2 472.3,326.9 476.7,330.0 C481.1,333.1 478.9,332.3 483.3,335.0 C487.7,337.7 484.4,335.2 490.0,338.0 C495.6,340.8 492.7,337.7 500.0,343.5 C507.3,349.3 508.0,351.5 512.0,355.5" fill="none" stroke="#4a90f0" stroke-width="1.1" stroke-linejoin="round"/>
<g clip-path="url(#plot)" stroke="rgba(84,82,166,0.8)" stroke-width="1.95" fill="none">
<line x1="-2" y1="24.1" x2="532" y2="526.1"/>
<line x1="208.5" y1="41" x2="532" y2="361.3"/>
<line x1="351" y1="393" x2="521" y2="393" stroke-width="2"/>
</g>
</svg>
<div class="t sym" style="left:0.5px;top:0px;">NQU2</div>
<div class="t lb" style="left:83.7px;top:3px;">Open</div>
<div class="t val g" style="left:120.5px;top:0.6px;">11482.75</div>
<div class="t lb" style="left:173px;top:3px;">High</div>
<div class="t val g" style="left:204.5px;top:0.6px;">11740.75</div>
<div class="t lb" style="left:257px;top:3px;">Low</div>
<div class="t val g" style="left:285.5px;top:0.6px;">11482.75</div>
<div class="t lb" style="left:337.5px;top:3px;">Close</div>
<div class="t val g" style="left:375.5px;top:0.6px;">11699.50</div>
<div class="t lb" style="left:0.5px;top:24.5px;">Volume <i>(9)</i></div>
<div class="t val r" style="left:117.5px;top:22.6px;">0.00</div>
<div class="t val b" style="left:163.5px;top:22.6px;">180214.33</div>
<div class="t lb" style="left:0.5px;top:45.5px;">Simple Moving Average <i>(close,20)</i></div>
<div class="t val b" style="left:242px;top:43.1px;">11983.16</div>
<div class="t ax" style="left:536.4px;top:39.3px;">15187.20</div>
<div class="t ax" style="left:536.4px;top:75.8px;">14810.20</div>
<div class="t ax" style="left:536.4px;top:112.4px;">14433.20</div>
<div class="t ax" style="left:536.4px;top:148.9px;">14056.20</div>
<div class="t ax" style="left:536.4px;top:185.5px;">13679.20</div>
<div class="t ax" style="left:536.4px;top:222.1px;">13302.20</div>
<div class="t ax" style="left:536.4px;top:258.6px;">12925.20</div>
<div class="t ax" style="left:536.4px;top:295.1px;">12548.20</div>
<div class="t ax" style="left:536.4px;top:331.7px;">12171.20</div>
<div class="t ax" style="left:536.4px;top:368.2px;">11794.20</div>
<div class="t ax" style="left:536.4px;top:404.8px;">11417.20</div>
<div class="t ax" style="left:536.4px;top:441.3px;">11040.20</div>
<div class="t ax" style="left:536.4px;top:477.9px;">10663.20</div>
<div class="t ax" style="left:536.4px;top:514.4px;">10286.20</div>
<div class="price"><span>11699.50</span></div>
<div class="t ax" style="left:0.8px;top:533.3px;">02/01</div>
<div class="t ax" style="left:0.8px;top:543.8px;">2022</div>
<div class="t ax" style="left:96.1px;top:533.3px;">03/03</div>
<div class="t ax" style="left:171.1px;top:533.3px;">03/24</div>
<div class="t ax" style="left:247.1px;top:533.3px;">04/14</div>
<div class="t ax" style="left:323.1px;top:533.3px;">05/07</div>
<div class="t ax" style="left:399.1px;top:533.3px;">05/27</div>
<div class="t ax" style="left:474.1px;top:533.3px;">06/17</div>
</body></html>
